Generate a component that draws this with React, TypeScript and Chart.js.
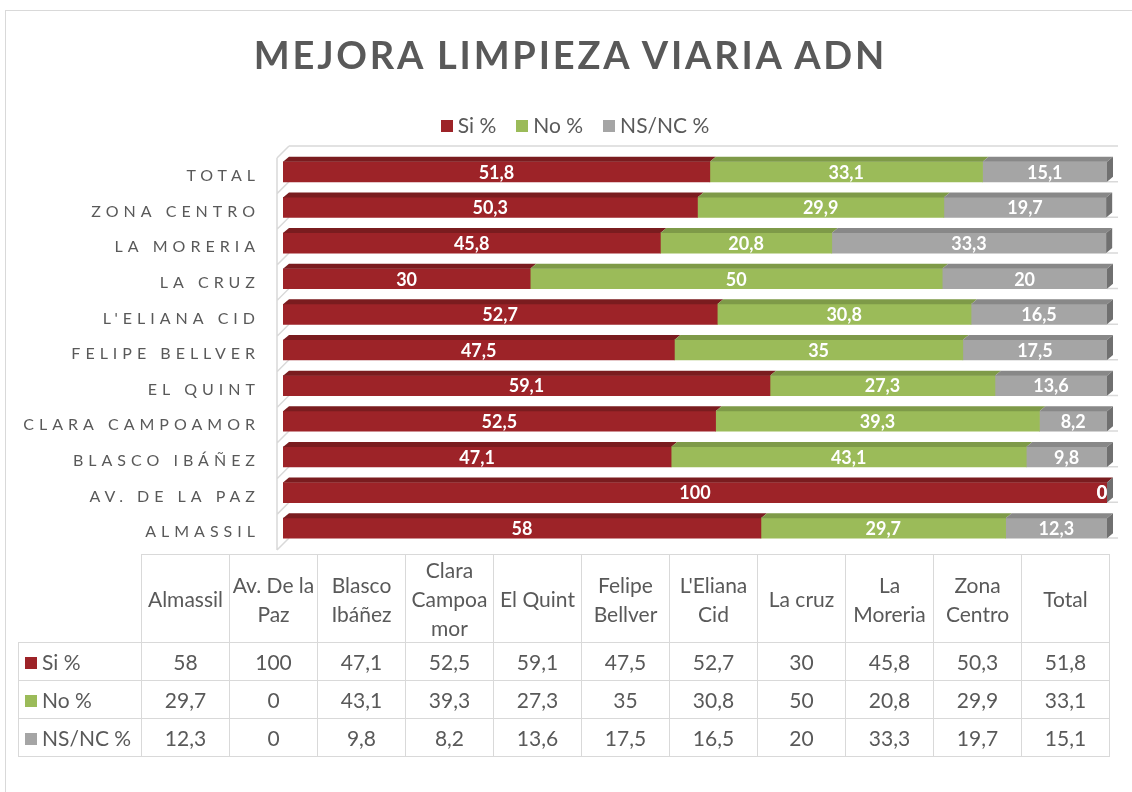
import React, { useEffect, useRef } from "react";
import { Chart, registerables } from "chart.js";

Chart.register(...registerables);

const categories = [
  "Almassil",
  "Av. De la Paz",
  "Blasco Ibáñez",
  "Clara Campoamor",
  "El Quint",
  "Felipe Bellver",
  "L'Eliana Cid",
  "La cruz",
  "La Moreria",
  "Zona Centro",
  "Total",
];
const siValues = [58, 100, 47.1, 52.5, 59.1, 47.5, 52.7, 30, 45.8, 50.3, 51.8];
const noValues = [29.7, 0, 43.1, 39.3, 27.3, 35, 30.8, 50, 20.8, 29.9, 33.1];
const nsValues = [12.3, 0, 9.8, 8.2, 13.6, 17.5, 16.5, 20, 33.3, 19.7, 15.1];
const seriesNames = ["Si %", "No %", "NS/NC %"];
const seriesValues = [siValues, noValues, nsValues];

const FRONT = ["#9D2328", "#9BBB59", "#A5A5A5"];
const TOPC = ["#7A1C1F", "#7E9A48", "#888888"];
const SIDE = "#707070";
const TEXT = "#595959";
const GRIDC = "#d9d9d9";
const FONT = "Lato, 'Open Sans', sans-serif";

const fmt = (v: number) => String(v).replace(".", ",");

const threeD = {
  id: "threeD",
  beforeDraw(chart: any) {
    (chart.ctx as any).letterSpacing = "5px";
  },
  beforeDatasetsDraw(chart: any) {
    const ctx = chart.ctx;
    (ctx as any).letterSpacing = "0px";
    const ca = chart.chartArea;
    const n = categories.length;
    const band = (ca.bottom - ca.top) / n;
    const xl = ca.left - 6;
    const xb = ca.left + 6;
    ctx.save();
    ctx.strokeStyle = GRIDC;
    ctx.lineWidth = 1.5;
    ctx.beginPath();
    ctx.moveTo(xl, ca.top + 4);
    ctx.lineTo(xl, ca.bottom + 4);
    for (let k = 0; k <= n; k++) {
      const yb = ca.top + k * band;
      ctx.moveTo(xl, yb + 4);
      ctx.lineTo(xb, yb - 8);
    }
    ctx.moveTo(xb, ca.top - 8);
    ctx.lineTo(ca.right + 11, ca.top - 8);
    for (let k = 1; k <= n; k++) {
      const yb = ca.top + k * band;
      ctx.moveTo(ca.right, yb - 8);
      ctx.lineTo(ca.right + 11, yb - 8);
    }
    ctx.stroke();
    ctx.restore();
  },
  afterDatasetsDraw(chart: any) {
    const ctx = chart.ctx;
    const ca = chart.chartArea;
    const dx = 6;
    const dy = -5;
    ctx.save();
    const nds = chart.data.datasets.length;
    for (let i = 0; i < nds; i++) {
      const meta = chart.getDatasetMeta(i);
      meta.data.forEach((bar: any) => {
        const p = bar.getProps(["x", "y", "base", "height"], true);
        const left = Math.min(p.base, p.x);
        const right = Math.max(p.base, p.x);
        const top = p.y - p.height / 2;
        ctx.fillStyle = TOPC[i];
        ctx.beginPath();
        ctx.moveTo(left, top);
        ctx.lineTo(right, top);
        ctx.lineTo(right + dx, top + dy);
        ctx.lineTo(left + dx, top + dy);
        ctx.closePath();
        ctx.fill();
      });
    }
    const last = chart.getDatasetMeta(nds - 1);
    last.data.forEach((bar: any) => {
      const p = bar.getProps(["x", "y", "base", "height"], true);
      const r = Math.max(p.base, p.x);
      const top = p.y - p.height / 2;
      const bot = p.y + p.height / 2;
      ctx.fillStyle = SIDE;
      ctx.beginPath();
      ctx.moveTo(r, top);
      ctx.lineTo(r + dx, top + dy);
      ctx.lineTo(r + dx, bot + dy);
      ctx.lineTo(r, bot);
      ctx.closePath();
      ctx.fill();
    });
    ctx.fillStyle = "#ffffff";
    ctx.font = `bold 18px ${FONT}`;
    ctx.textAlign = "center";
    ctx.textBaseline = "middle";
    for (let i = 0; i < nds; i++) {
      const meta = chart.getDatasetMeta(i);
      meta.data.forEach((bar: any, j: number) => {
        const p = bar.getProps(["x", "y", "base"], true);
        let cx = (p.base + p.x) / 2;
        cx = Math.min(cx, ca.right - 5);
        ctx.fillText(fmt(seriesValues[i][j]), cx, p.y + 1);
      });
    }
    ctx.restore();
  },
};

function LegendKey({ color }: { color: string }) {
  return (
    <span
      style={{
        display: "inline-block",
        width: 12,
        height: 12,
        background: color,
        marginRight: 5,
        verticalAlign: "middle",
        position: "relative",
        top: -2,
      }}
    />
  );
}

export default function App() {
  const ref = useRef<HTMLCanvasElement | null>(null);

  useEffect(() => {
    if (!ref.current) return;
    const chart = new Chart(ref.current, {
      type: "bar",
      data: {
        labels: categories,
        datasets: seriesNames.map((name, i) => ({
          label: name,
          data: seriesValues[i],
          backgroundColor: FRONT[i],
          borderWidth: 0,
          barThickness: 20,
        })),
      },
      options: {
        indexAxis: "y",
        animation: false,
        responsive: false,
        maintainAspectRatio: false,
        layout: { padding: { top: 154, bottom: 246, right: 25, left: 0 } },
        plugins: {
          legend: { display: false },
          title: { display: false },
          tooltip: { enabled: false },
        },
        scales: {
          x: { stacked: true, min: 0, max: 100, display: false },
          y: {
            stacked: true,
            reverse: true,
            grid: { display: false, drawTicks: false },
            border: { display: false },
            ticks: {
              color: TEXT,
              font: { family: FONT, size: 16 },
              padding: 23,
              labelOffset: 4,
              callback: (_v: any, i: number) => categories[i].toUpperCase(),
            },
            afterFit: (s: any) => {
              s.width = 283;
            },
          },
        },
      } as any,
      plugins: [threeD],
    });
    return () => chart.destroy();
  }, []);

  const cell: React.CSSProperties = {
    border: `1px solid ${GRIDC}`,
    padding: "0 2px",
    textAlign: "center",
    fontFamily: FONT,
    fontSize: 21,
    fontWeight: "normal",
    color: TEXT,
    lineHeight: "29px",
    overflowWrap: "anywhere",
  };

  return (
    <div
      style={{
        position: "relative",
        width: 1132,
        height: 792,
        overflow: "hidden",
        background: "#fff",
        fontFamily: FONT,
      }}
    >
      <style>{"body{margin:0}"}</style>
      <div
        style={{
          position: "absolute",
          left: 5,
          top: 10,
          width: 1300,
          height: 1000,
          borderLeft: `1px solid ${GRIDC}`,
          borderTop: `1px solid ${GRIDC}`,
        }}
      />
      <canvas
        ref={ref}
        width={1132}
        height={792}
        style={{ position: "absolute", left: 0, top: 0 }}
      />
      <div
        style={{
          position: "absolute",
          left: 0,
          width: 1141,
          top: 32,
          textAlign: "center",
          fontFamily: FONT,
          fontWeight: "bold",
          fontSize: 38,
          letterSpacing: 2.8,
          lineHeight: 1.2,
          color: TEXT,
        }}
      >
        MEJORA LIMPIEZA VIARIA ADN
      </div>
      <div
        style={{
          position: "absolute",
          left: 0,
          width: 1150,
          top: 110,
          textAlign: "center",
          fontSize: 21,
          lineHeight: "30px",
          color: TEXT,
          whiteSpace: "nowrap",
        }}
      >
        {seriesNames.map((n, i) => (
          <span key={n} style={{ marginRight: i < 2 ? 20 : 0 }}>
            <LegendKey color={FRONT[i]} />
            {n}
          </span>
        ))}
      </div>
      <table
        style={{
          position: "absolute",
          left: 18,
          top: 554,
          borderCollapse: "collapse",
          tableLayout: "fixed",
          width: 1092,
        }}
      >
        <colgroup>
          <col style={{ width: 123 }} />
          {categories.map((c) => (
            <col key={c} style={{ width: 88 }} />
          ))}
        </colgroup>
        <thead>
          <tr style={{ height: 88 }}>
            <th style={{ ...cell, borderTop: "none", borderLeft: "none" }} />
            {categories.map((c) => (
              <th key={c} style={cell}>
                {c}
              </th>
            ))}
          </tr>
        </thead>
        <tbody>
          {seriesNames.map((n, i) => (
            <tr key={n} style={{ height: 38 }}>
              <td style={{ ...cell, textAlign: "left", paddingLeft: 6 }}>
                <LegendKey color={FRONT[i]} />
                {n}
              </td>
              {seriesValues[i].map((v, j) => (
                <td key={j} style={cell}>
                  {fmt(v)}
                </td>
              ))}
            </tr>
          ))}
        </tbody>
      </table>
    </div>
  );
}
